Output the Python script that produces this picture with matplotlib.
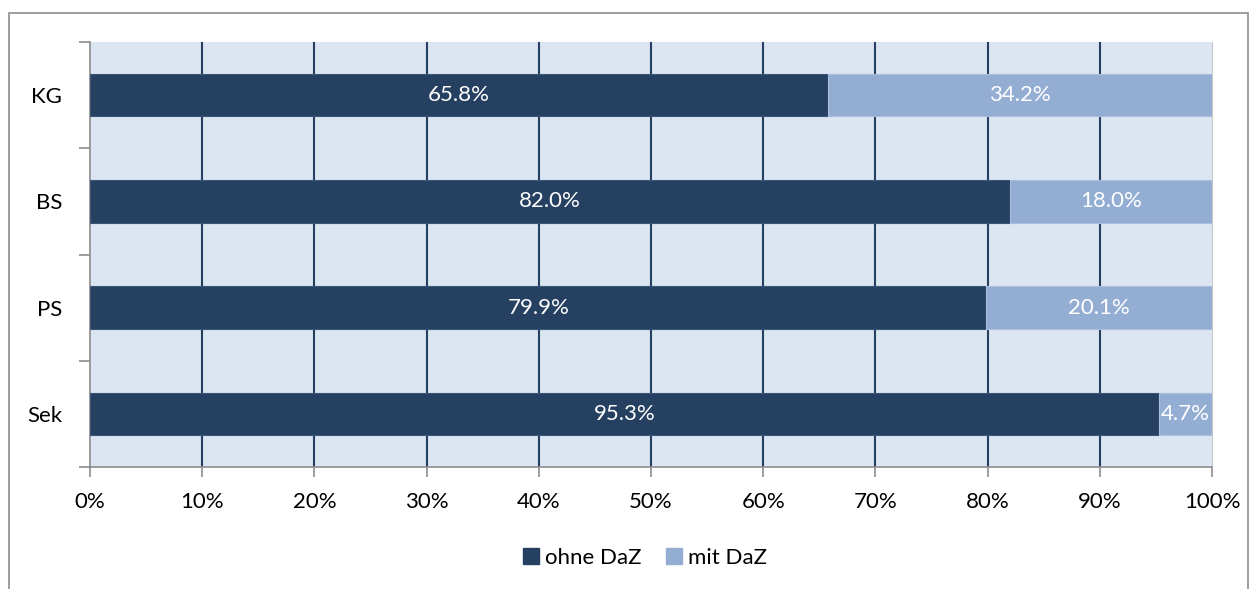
import matplotlib
matplotlib.use("Agg")
import matplotlib.pyplot as plt
import matplotlib.ticker as mticker
from matplotlib.patches import Rectangle, Patch
import numpy as np

plt.rcParams['font.family'] = ['Lato', 'DejaVu Sans']

categories = ['KG', 'BS', 'PS', 'Sek']
ohne_daz = [65.8, 82.0, 79.9, 95.3]
mit_daz = [34.2, 18.0, 20.1, 4.7]

dark = '#264061'
light = '#94AED3'
bg = '#DCE6F2'
gray = '#8C8C8C'
fs = 16

fig = plt.figure(figsize=(12.6, 5.89), dpi=100)
ax = fig.add_axes([90/1260, 1-467/589, (1212-90)/1260, (467-42)/589])

# outer chart frame (bottom edge runs off the picture)
fig.patches.append(Rectangle((9/1260, -0.1), (1248-9)/1260, 1.1-13/589,
                             transform=fig.transFigure, fill=False,
                             edgecolor=gray, linewidth=1.2, zorder=0))

ax.set_facecolor(bg)
y = np.arange(len(categories))
h = 0.4
ax.barh(y, ohne_daz, height=h, color=dark, edgecolor='#3B5577', linewidth=0.8, zorder=3, label='ohne DaZ')
ax.barh(y, mit_daz, left=ohne_daz, height=h, color=light, edgecolor='#A9BFDE', linewidth=0.8, zorder=3, label='mit DaZ')

for i in range(len(categories)):
    ax.text(ohne_daz[i]/2, y[i], f'{ohne_daz[i]:.1f}%', color='white', ha='center', va='center', fontsize=fs, zorder=4)
    ax.text(ohne_daz[i] + mit_daz[i]/2, y[i], f'{mit_daz[i]:.1f}%', color='white', ha='center', va='center', fontsize=fs, zorder=4)

ax.set_xlim(0, 100)
ax.set_ylim(len(categories)-0.5, -0.5)
for gx in range(10, 100, 10):
    ax.axvline(gx, color=dark, linewidth=1.5, zorder=1)

ax.set_xticks(np.arange(0, 101, 10))
ax.xaxis.set_major_formatter(mticker.FuncFormatter(lambda v, p: f'{v:.0f}%'))
ax.set_yticks(np.arange(-0.5, len(categories), 1))
ax.set_yticklabels([])
ax.set_yticks(y, minor=True)
ax.set_yticklabels(categories, minor=True)
ax.tick_params(axis='y', which='minor', length=0, pad=20, labelsize=fs)
ax.tick_params(axis='y', which='major', length=8, color=gray, width=1.2)
ax.tick_params(axis='x', length=7, color=gray, width=1.2, labelsize=fs, pad=11)

ax.spines['top'].set_visible(False)
ax.spines['right'].set_color('#C8C8C8')
ax.spines['left'].set_color(gray)
ax.spines['bottom'].set_color(gray)
ax.spines['left'].set_linewidth(1.2)
ax.spines['bottom'].set_linewidth(1.2)

handles = [Patch(color=dark, label='ohne DaZ'), Patch(color=light, label='mit DaZ')]
fig.legend(handles=handles, loc='center', bbox_to_anchor=(645/1260, 1-558/589), ncol=2,
           frameon=False, fontsize=fs, handlelength=0.72, handleheight=0.72, handletextpad=0.25,
           columnspacing=1.1)

fig.savefig('out.png', dpi=100)
